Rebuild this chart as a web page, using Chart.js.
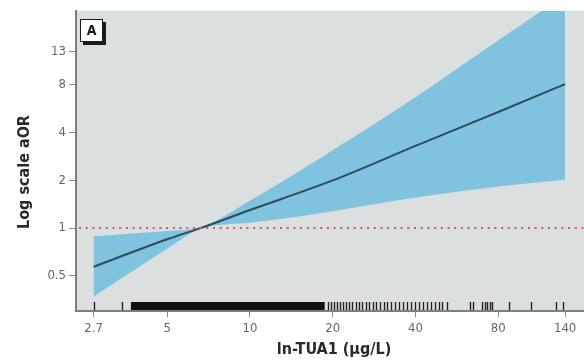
<!DOCTYPE html>
<html>
<head>
<meta charset="utf-8">
<script src="https://cdn.jsdelivr.net/npm/chart.js@4.4.1/dist/chart.umd.min.js"></script>
<style>
  html, body { margin: 0; padding: 0; background: #fff; }
</style>
</head>
<body>
<canvas id="chart" width="584" height="360"></canvas>
<script>
// tick labels
const xTicks = [2.7, 5, 10, 20, 40, 80, 140];
const yTicks = [0.5, 1, 2, 4, 8, 13];

// fitted curve (ln-TUA1 vs aOR)
const fitX  = [2.7, 5, 6.6, 10, 20, 40, 80, 140];
const fitOR = [0.57, 0.85, 1.0, 1.3, 2.0, 3.3, 5.4, 8.1];

// 95% CI band
const bandX   = [2.7, 5, 6.6, 10, 20, 40, 80, 140];
const upperCI = [0.89, 0.96, 1.01, 1.49, 3.1, 6.7, 15.3, 29.6];
const lowerCI = [0.37, 0.74, 0.99, 1.08, 1.28, 1.56, 1.83, 2.02];

// rug of observations
const rugBlock = [3.69, 18.7];   // range where marks merge into a solid bar
const rugX = [2.7, 3.42,
  19.2, 19.7, 20.2, 20.7, 21.3, 21.8, 22.4, 22.9, 23.5, 24.3, 24.9, 25.6, 26.4, 27.1,
  28.0, 28.7, 29.7, 30.7, 31.5, 32.6, 33.7, 34.9, 36.0, 37.3, 38.5, 39.9, 41.2, 42.6,
  44.1, 45.6, 47.1, 48.7, 50.0, 52.1, 63.2, 64.8, 69.9, 71.7, 72.9, 74.7, 76.0,
  87.6, 105, 130, 137];

const refOR = 1;
const xRange = [2.33, 164];
const yRange = [0.308, 23.5];

const FONT = "'Liberation Sans Narrow','DejaVu Sans Condensed','Arial Narrow',sans-serif";

const pts = (xs, ys) => xs.map((x, i) => ({ x, y: ys[i] }));

const decor = {
  id: 'decor',
  beforeDraw(chart) {
    const { ctx, chartArea: a } = chart;
    ctx.save();
    ctx.fillStyle = '#dcdfe0';
    ctx.fillRect(a.left, a.top, a.right - a.left, a.bottom - a.top);
    ctx.restore();
  },
  afterDatasetsDraw(chart) {
    const { ctx, chartArea: a, scales: { x, y } } = chart;
    ctx.save();
    // reference line at aOR = 1
    const yr = y.getPixelForValue(refOR);
    ctx.strokeStyle = '#c85a5a';
    ctx.lineWidth = 2;
    ctx.setLineDash([2, 4.7]);
    ctx.beginPath();
    ctx.moveTo(a.left + 3, yr);
    ctx.lineTo(a.right, yr);
    ctx.stroke();
    ctx.setLineDash([]);
    // rug
    const top = a.bottom - 9, bot = a.bottom - 1;
    ctx.fillStyle = '#111';
    const b0 = x.getPixelForValue(rugBlock[0]), b1 = x.getPixelForValue(rugBlock[1]);
    ctx.fillRect(b0, top, b1 - b0, bot - top);
    ctx.strokeStyle = '#222';
    ctx.lineWidth = 1.4;
    rugX.forEach(v => {
      const px = Math.round(x.getPixelForValue(v)) + 0.5;
      ctx.beginPath();
      ctx.moveTo(px, top);
      ctx.lineTo(px, bot);
      ctx.stroke();
    });
    ctx.restore();
  },
  afterDraw(chart) {
    const { ctx } = chart;
    ctx.save();
    // panel label
    ctx.fillStyle = '#1a1a1a';
    ctx.fillRect(83, 22, 23, 23);
    ctx.fillStyle = '#fff';
    ctx.fillRect(80, 19, 23, 23);
    ctx.strokeStyle = '#1a1a1a';
    ctx.lineWidth = 1;
    ctx.strokeRect(80.5, 19.5, 22, 22);
    ctx.fillStyle = '#1a1a1a';
    ctx.font = 'bold 14px ' + FONT;
    ctx.textAlign = 'center';
    ctx.textBaseline = 'middle';
    ctx.fillText('A', 91.5, 31);
    // axis titles
    ctx.fillStyle = '#2a2a2a';
    ctx.font = 'bold 16px ' + FONT;
    ctx.fillText('ln-TUA1 (µg/L)', 334, 350);
    ctx.translate(25, 172);
    ctx.rotate(-Math.PI / 2);
    ctx.fillText('Log scale aOR', 0, 0);
    ctx.restore();
  }
};

new Chart(document.getElementById('chart'), {
  type: 'line',
  data: {
    datasets: [
      {
        data: pts(bandX, upperCI),
        borderWidth: 0,
        pointRadius: 0,
        backgroundColor: '#80c3de',
        fill: '+1',
        order: 2,
        cubicInterpolationMode: 'monotone'
      },
      {
        data: pts(bandX, lowerCI),
        borderWidth: 0,
        pointRadius: 0,
        fill: false,
        order: 3,
        cubicInterpolationMode: 'monotone'
      },
      {
        data: pts(fitX, fitOR),
        borderColor: '#2c4d5a',
        borderWidth: 2,
        pointRadius: 0,
        fill: false,
        order: 0,
        cubicInterpolationMode: 'monotone'
      }
    ]
  },
  options: {
    responsive: false,
    devicePixelRatio: 1,
    animation: false,
    layout: { padding: { top: 9, left: 0, right: 0, bottom: 0 } },
    plugins: { legend: { display: false }, tooltip: { enabled: false } },
    scales: {
      x: {
        type: 'logarithmic',
        min: xRange[0],
        max: xRange[1],
        afterBuildTicks: s => { s.ticks = xTicks.map(v => ({ value: v })); },
        afterFit: s => { s.height = 49; },
        grid: { drawOnChartArea: false, drawTicks: true, tickLength: 6, color: '#8a8a8a' },
        border: { display: true, color: '#7d7d7d', width: 2 },
        ticks: {
          autoSkip: false, maxRotation: 0, padding: 4, color: '#666',
          font: { family: FONT, size: 13 },
          callback: v => String(v)
        }
      },
      y: {
        type: 'logarithmic',
        min: yRange[0],
        max: yRange[1],
        afterBuildTicks: s => { s.ticks = yTicks.map(v => ({ value: v })); },
        afterFit: s => { s.width = 76; },
        grid: { drawOnChartArea: false, drawTicks: true, tickLength: 7, color: '#8a8a8a' },
        border: { display: true, color: '#7d7d7d', width: 2 },
        ticks: {
          padding: 3, color: '#666',
          font: { family: FONT, size: 13 },
          callback: v => String(v)
        }
      }
    }
  },
  plugins: [decor]
});
</script>
</body>
</html>
